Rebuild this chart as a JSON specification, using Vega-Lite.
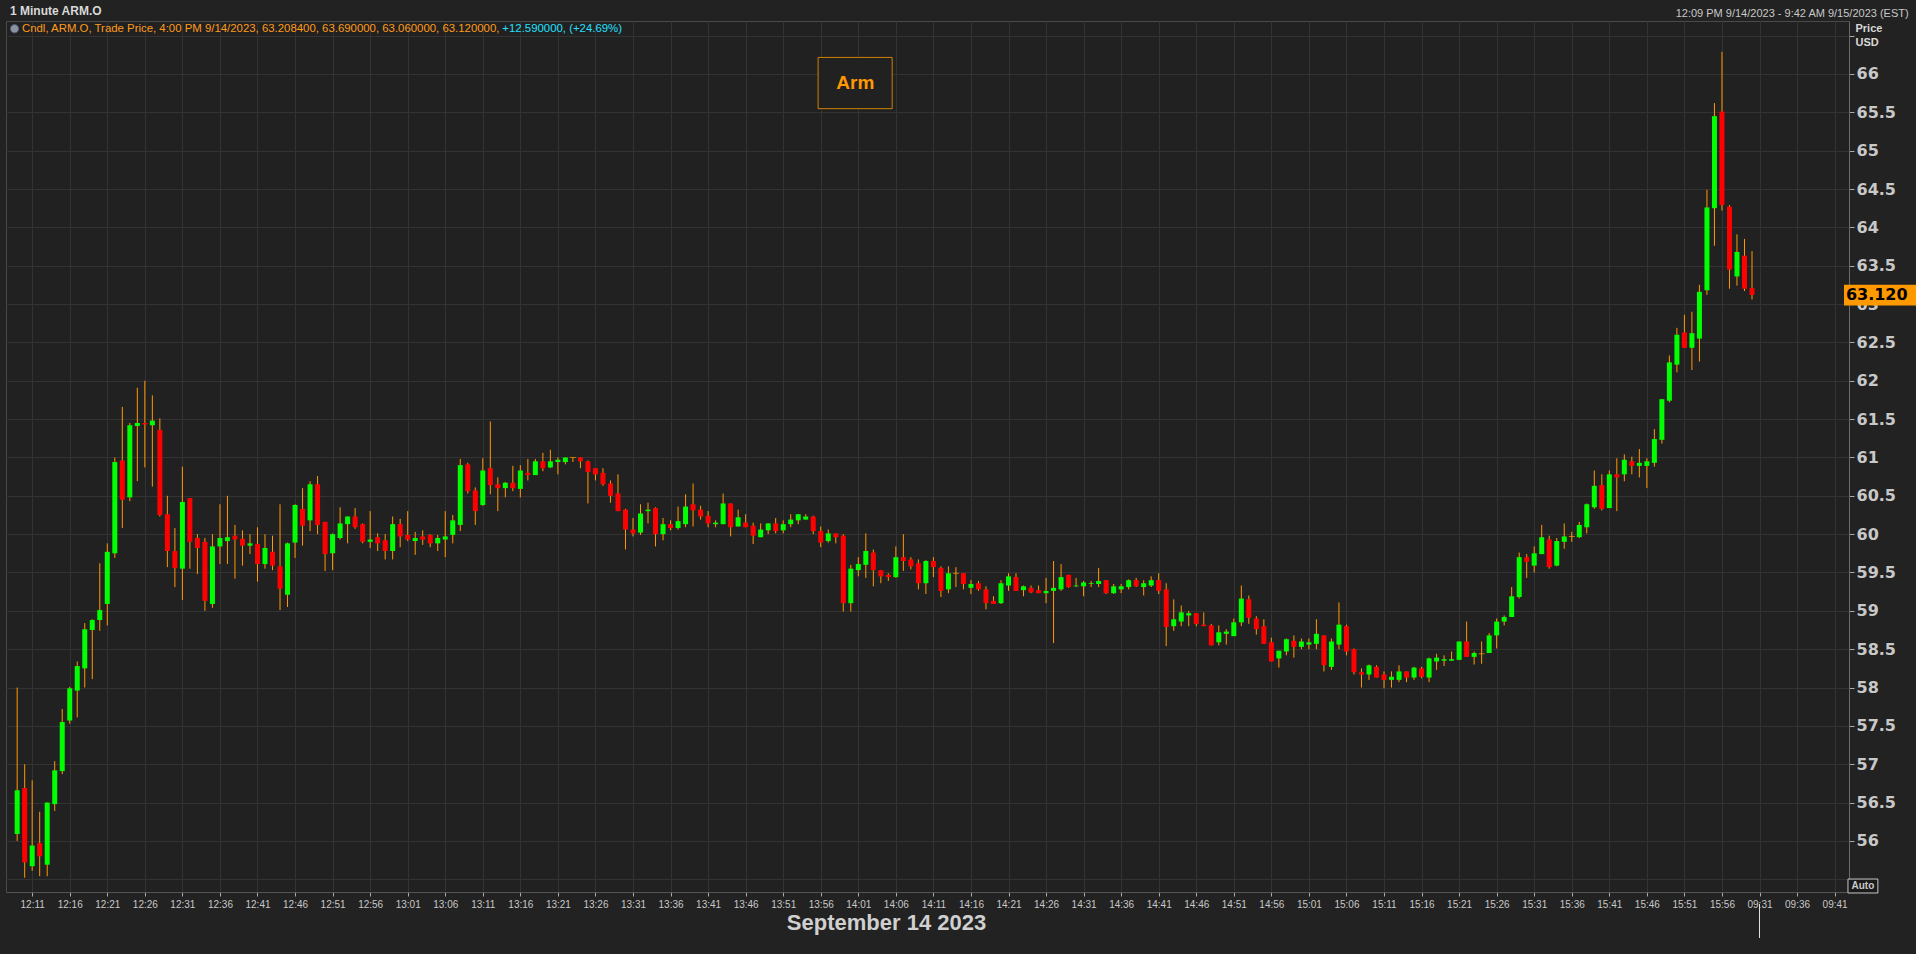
{
  "$schema": "https://vega.github.io/schema/vega-lite/v6.json",
  "width": 1843,
  "height": 871,
  "autosize": {"type": "none"},
  "padding": {"left": 6, "top": 21, "right": 67, "bottom": 62},
  "background": "#222222",
  "config": {
    "view": {"fill": "#212121", "stroke": "#4a4a4a", "strokeWidth": 1},
    "font": "Liberation Sans"
  },
  "data": {"values": [
{"bar":0,"o":56.09,"h":58.0,"l":56.0,"c":56.66},
{"bar":1,"o":56.69,"h":57.0,"l":55.52,"c":55.72},
{"bar":2,"o":55.67,"h":56.79,"l":55.61,"c":55.94},
{"bar":3,"o":55.97,"h":56.38,"l":55.54,"c":55.80},
{"bar":4,"o":55.69,"h":56.50,"l":55.54,"c":56.50},
{"bar":5,"o":56.48,"h":57.04,"l":56.39,"c":56.92},
{"bar":6,"o":56.91,"h":57.72,"l":56.87,"c":57.55},
{"bar":7,"o":57.57,"h":58.01,"l":57.53,"c":57.99},
{"bar":8,"o":57.96,"h":58.34,"l":57.61,"c":58.28},
{"bar":9,"o":58.25,"h":58.84,"l":58.00,"c":58.76},
{"bar":10,"o":58.75,"h":58.89,"l":58.11,"c":58.88},
{"bar":11,"o":58.88,"h":59.62,"l":58.74,"c":59.01},
{"bar":12,"o":59.09,"h":59.88,"l":58.81,"c":59.77},
{"bar":13,"o":59.75,"h":61.0,"l":59.69,"c":60.94},
{"bar":14,"o":60.96,"h":61.66,"l":60.08,"c":60.45},
{"bar":15,"o":60.48,"h":61.45,"l":60.43,"c":61.42},
{"bar":16,"o":61.41,"h":61.91,"l":60.69,"c":61.45},
{"bar":17,"o":61.45,"h":62.0,"l":60.87,"c":61.43},
{"bar":18,"o":61.42,"h":61.81,"l":60.62,"c":61.48},
{"bar":19,"o":61.36,"h":61.51,"l":60.23,"c":60.25},
{"bar":20,"o":60.26,"h":60.50,"l":59.57,"c":59.78},
{"bar":21,"o":59.78,"h":60.08,"l":59.31,"c":59.56},
{"bar":22,"o":59.55,"h":60.88,"l":59.14,"c":60.42},
{"bar":23,"o":60.47,"h":60.47,"l":59.55,"c":59.90},
{"bar":24,"o":59.95,"h":60.00,"l":59.48,"c":59.82},
{"bar":25,"o":59.90,"h":59.95,"l":59.00,"c":59.13},
{"bar":26,"o":59.09,"h":60.00,"l":59.04,"c":59.84},
{"bar":27,"o":59.84,"h":60.39,"l":59.61,"c":59.95},
{"bar":28,"o":59.91,"h":60.50,"l":59.61,"c":59.96},
{"bar":29,"o":59.98,"h":60.12,"l":59.42,"c":59.93},
{"bar":30,"o":59.94,"h":60.05,"l":59.59,"c":59.85},
{"bar":31,"o":59.85,"h":60.00,"l":59.74,"c":59.88},
{"bar":32,"o":59.87,"h":60.09,"l":59.38,"c":59.61},
{"bar":33,"o":59.61,"h":60.00,"l":59.55,"c":59.82},
{"bar":34,"o":59.77,"h":59.98,"l":59.53,"c":59.59},
{"bar":35,"o":59.58,"h":60.39,"l":59.01,"c":59.29},
{"bar":36,"o":59.21,"h":59.89,"l":59.05,"c":59.88},
{"bar":37,"o":59.89,"h":60.39,"l":59.69,"c":60.38},
{"bar":38,"o":60.33,"h":60.60,"l":59.85,"c":60.11},
{"bar":39,"o":60.18,"h":60.69,"l":60.04,"c":60.65},
{"bar":40,"o":60.65,"h":60.76,"l":60.00,"c":60.12},
{"bar":41,"o":60.16,"h":60.16,"l":59.52,"c":59.74},
{"bar":42,"o":59.75,"h":60.01,"l":59.53,"c":60.00},
{"bar":43,"o":59.95,"h":60.35,"l":59.93,"c":60.14},
{"bar":44,"o":60.13,"h":60.23,"l":59.88,"c":60.23},
{"bar":45,"o":60.23,"h":60.34,"l":60.07,"c":60.09},
{"bar":46,"o":60.13,"h":60.14,"l":59.88,"c":59.90},
{"bar":47,"o":59.90,"h":60.30,"l":59.82,"c":59.93},
{"bar":48,"o":59.96,"h":60.01,"l":59.78,"c":59.88},
{"bar":49,"o":59.92,"h":60.00,"l":59.67,"c":59.78},
{"bar":50,"o":59.78,"h":60.23,"l":59.67,"c":60.13},
{"bar":51,"o":60.13,"h":60.20,"l":59.83,"c":59.97},
{"bar":52,"o":59.99,"h":60.30,"l":59.91,"c":59.93},
{"bar":53,"o":59.91,"h":60.03,"l":59.73,"c":59.95},
{"bar":54,"o":59.97,"h":60.05,"l":59.86,"c":59.93},
{"bar":55,"o":59.99,"h":60.00,"l":59.83,"c":59.88},
{"bar":56,"o":59.88,"h":59.99,"l":59.78,"c":59.95},
{"bar":57,"o":59.93,"h":60.30,"l":59.70,"c":59.97},
{"bar":58,"o":59.99,"h":60.25,"l":59.88,"c":60.18},
{"bar":59,"o":60.12,"h":60.98,"l":60.04,"c":60.90},
{"bar":60,"o":60.91,"h":60.93,"l":60.53,"c":60.56},
{"bar":61,"o":60.57,"h":60.61,"l":60.12,"c":60.30},
{"bar":62,"o":60.38,"h":60.99,"l":60.37,"c":60.83},
{"bar":63,"o":60.86,"h":61.47,"l":60.52,"c":60.64},
{"bar":64,"o":60.65,"h":60.74,"l":60.30,"c":60.60},
{"bar":65,"o":60.60,"h":60.68,"l":60.48,"c":60.67},
{"bar":66,"o":60.67,"h":60.89,"l":60.56,"c":60.60},
{"bar":67,"o":60.59,"h":60.90,"l":60.48,"c":60.83},
{"bar":68,"o":60.80,"h":60.98,"l":60.70,"c":60.77},
{"bar":69,"o":60.77,"h":60.98,"l":60.77,"c":60.95},
{"bar":70,"o":60.95,"h":61.06,"l":60.82,"c":60.86},
{"bar":71,"o":60.87,"h":61.10,"l":60.86,"c":60.95},
{"bar":72,"o":60.94,"h":61.00,"l":60.78,"c":60.97},
{"bar":73,"o":60.94,"h":61.00,"l":60.91,"c":61.00},
{"bar":74,"o":61.00,"h":61.00,"l":60.94,"c":61.00},
{"bar":75,"o":61.00,"h":61.00,"l":60.86,"c":60.95},
{"bar":76,"o":60.95,"h":60.96,"l":60.40,"c":60.81},
{"bar":77,"o":60.86,"h":60.86,"l":60.70,"c":60.78},
{"bar":78,"o":60.80,"h":60.86,"l":60.63,"c":60.65},
{"bar":79,"o":60.66,"h":60.70,"l":60.41,"c":60.50},
{"bar":80,"o":60.53,"h":60.78,"l":60.30,"c":60.30},
{"bar":81,"o":60.32,"h":60.33,"l":59.80,"c":60.06},
{"bar":82,"o":60.06,"h":60.21,"l":59.97,"c":60.01},
{"bar":83,"o":60.02,"h":60.39,"l":59.99,"c":60.27},
{"bar":84,"o":60.30,"h":60.41,"l":60.14,"c":60.32},
{"bar":85,"o":60.34,"h":60.35,"l":59.84,"c":60.00},
{"bar":86,"o":60.00,"h":60.21,"l":59.92,"c":60.13},
{"bar":87,"o":60.13,"h":60.18,"l":60.05,"c":60.08},
{"bar":88,"o":60.08,"h":60.36,"l":60.06,"c":60.17},
{"bar":89,"o":60.13,"h":60.52,"l":60.09,"c":60.36},
{"bar":90,"o":60.39,"h":60.66,"l":60.10,"c":60.31},
{"bar":91,"o":60.32,"h":60.37,"l":60.19,"c":60.23},
{"bar":92,"o":60.24,"h":60.30,"l":60.09,"c":60.14},
{"bar":93,"o":60.13,"h":60.18,"l":60.09,"c":60.15},
{"bar":94,"o":60.13,"h":60.53,"l":60.13,"c":60.40},
{"bar":95,"o":60.40,"h":60.40,"l":59.97,"c":60.09},
{"bar":96,"o":60.10,"h":60.32,"l":60.10,"c":60.22},
{"bar":97,"o":60.15,"h":60.26,"l":60.09,"c":60.09},
{"bar":98,"o":60.11,"h":60.15,"l":59.87,"c":59.98},
{"bar":99,"o":59.96,"h":60.14,"l":59.96,"c":60.06},
{"bar":100,"o":60.05,"h":60.14,"l":60.00,"c":60.14},
{"bar":101,"o":60.14,"h":60.21,"l":60.01,"c":60.04},
{"bar":102,"o":60.05,"h":60.18,"l":60.01,"c":60.13},
{"bar":103,"o":60.13,"h":60.26,"l":60.09,"c":60.19},
{"bar":104,"o":60.18,"h":60.26,"l":60.13,"c":60.26},
{"bar":105,"o":60.19,"h":60.26,"l":60.19,"c":60.23},
{"bar":106,"o":60.23,"h":60.24,"l":60.00,"c":60.04},
{"bar":107,"o":60.04,"h":60.10,"l":59.83,"c":59.89},
{"bar":108,"o":59.91,"h":60.06,"l":59.89,"c":60.01},
{"bar":109,"o":60.01,"h":60.01,"l":59.88,"c":59.96},
{"bar":110,"o":59.98,"h":60.00,"l":58.99,"c":59.10},
{"bar":111,"o":59.10,"h":59.60,"l":58.99,"c":59.55},
{"bar":112,"o":59.53,"h":59.70,"l":59.45,"c":59.61},
{"bar":113,"o":59.60,"h":60.01,"l":59.43,"c":59.78},
{"bar":114,"o":59.76,"h":59.80,"l":59.32,"c":59.53},
{"bar":115,"o":59.53,"h":59.53,"l":59.36,"c":59.45},
{"bar":116,"o":59.47,"h":59.49,"l":59.39,"c":59.44},
{"bar":117,"o":59.44,"h":59.84,"l":59.43,"c":59.70},
{"bar":118,"o":59.70,"h":60.00,"l":59.52,"c":59.65},
{"bar":119,"o":59.67,"h":59.70,"l":59.54,"c":59.58},
{"bar":120,"o":59.62,"h":59.67,"l":59.28,"c":59.36},
{"bar":121,"o":59.36,"h":59.66,"l":59.22,"c":59.65},
{"bar":122,"o":59.65,"h":59.70,"l":59.44,"c":59.57},
{"bar":123,"o":59.56,"h":59.58,"l":59.18,"c":59.26},
{"bar":124,"o":59.28,"h":59.58,"l":59.23,"c":59.49},
{"bar":125,"o":59.49,"h":59.57,"l":59.31,"c":59.49},
{"bar":126,"o":59.49,"h":59.49,"l":59.28,"c":59.35},
{"bar":127,"o":59.30,"h":59.40,"l":59.22,"c":59.35},
{"bar":128,"o":59.36,"h":59.39,"l":59.26,"c":59.28},
{"bar":129,"o":59.28,"h":59.32,"l":59.02,"c":59.10},
{"bar":130,"o":59.13,"h":59.19,"l":59.09,"c":59.09},
{"bar":131,"o":59.10,"h":59.40,"l":59.09,"c":59.36},
{"bar":132,"o":59.33,"h":59.49,"l":59.26,"c":59.45},
{"bar":133,"o":59.44,"h":59.49,"l":59.26,"c":59.26},
{"bar":134,"o":59.27,"h":59.33,"l":59.19,"c":59.32},
{"bar":135,"o":59.30,"h":59.33,"l":59.23,"c":59.24},
{"bar":136,"o":59.27,"h":59.33,"l":59.23,"c":59.23},
{"bar":137,"o":59.23,"h":59.43,"l":59.10,"c":59.26},
{"bar":138,"o":59.26,"h":59.65,"l":58.58,"c":59.30},
{"bar":139,"o":59.28,"h":59.61,"l":59.26,"c":59.44},
{"bar":140,"o":59.47,"h":59.47,"l":59.30,"c":59.31},
{"bar":141,"o":59.32,"h":59.43,"l":59.31,"c":59.33},
{"bar":142,"o":59.32,"h":59.39,"l":59.19,"c":59.37},
{"bar":143,"o":59.35,"h":59.39,"l":59.31,"c":59.36},
{"bar":144,"o":59.35,"h":59.56,"l":59.31,"c":59.39},
{"bar":145,"o":59.40,"h":59.40,"l":59.22,"c":59.23},
{"bar":146,"o":59.23,"h":59.35,"l":59.22,"c":59.32},
{"bar":147,"o":59.28,"h":59.35,"l":59.23,"c":59.32},
{"bar":148,"o":59.31,"h":59.41,"l":59.28,"c":59.40},
{"bar":149,"o":59.40,"h":59.43,"l":59.31,"c":59.32},
{"bar":150,"o":59.31,"h":59.40,"l":59.20,"c":59.36},
{"bar":151,"o":59.33,"h":59.45,"l":59.31,"c":59.40},
{"bar":152,"o":59.40,"h":59.49,"l":59.22,"c":59.26},
{"bar":153,"o":59.28,"h":59.36,"l":58.54,"c":58.79},
{"bar":154,"o":58.80,"h":59.15,"l":58.74,"c":58.89},
{"bar":155,"o":58.86,"h":59.07,"l":58.80,"c":58.98},
{"bar":156,"o":58.94,"h":59.00,"l":58.80,"c":58.97},
{"bar":157,"o":58.97,"h":58.97,"l":58.80,"c":58.83},
{"bar":158,"o":58.82,"h":58.98,"l":58.80,"c":58.80},
{"bar":159,"o":58.81,"h":58.83,"l":58.55,"c":58.55},
{"bar":160,"o":58.59,"h":58.81,"l":58.55,"c":58.72},
{"bar":161,"o":58.70,"h":58.76,"l":58.56,"c":58.73},
{"bar":162,"o":58.67,"h":58.90,"l":58.67,"c":58.85},
{"bar":163,"o":58.85,"h":59.33,"l":58.80,"c":59.16},
{"bar":164,"o":59.15,"h":59.20,"l":58.83,"c":58.91},
{"bar":165,"o":58.90,"h":58.93,"l":58.69,"c":58.76},
{"bar":166,"o":58.80,"h":58.89,"l":58.57,"c":58.57},
{"bar":167,"o":58.59,"h":58.65,"l":58.34,"c":58.34},
{"bar":168,"o":58.38,"h":58.48,"l":58.26,"c":58.48},
{"bar":169,"o":58.47,"h":58.64,"l":58.42,"c":58.63},
{"bar":170,"o":58.61,"h":58.68,"l":58.39,"c":58.53},
{"bar":171,"o":58.53,"h":58.64,"l":58.50,"c":58.60},
{"bar":172,"o":58.56,"h":58.64,"l":58.50,"c":58.59},
{"bar":173,"o":58.57,"h":58.89,"l":58.50,"c":58.70},
{"bar":174,"o":58.68,"h":58.68,"l":58.21,"c":58.29},
{"bar":175,"o":58.27,"h":58.64,"l":58.23,"c":58.60},
{"bar":176,"o":58.56,"h":59.11,"l":58.50,"c":58.82},
{"bar":177,"o":58.80,"h":58.82,"l":58.42,"c":58.47},
{"bar":178,"o":58.50,"h":58.51,"l":58.17,"c":58.20},
{"bar":179,"o":58.20,"h":58.25,"l":58.00,"c":58.17},
{"bar":180,"o":58.17,"h":58.30,"l":58.10,"c":58.29},
{"bar":181,"o":58.27,"h":58.29,"l":58.13,"c":58.13},
{"bar":182,"o":58.17,"h":58.21,"l":57.99,"c":58.10},
{"bar":183,"o":58.10,"h":58.21,"l":58.00,"c":58.14},
{"bar":184,"o":58.10,"h":58.29,"l":58.07,"c":58.21},
{"bar":185,"o":58.21,"h":58.21,"l":58.07,"c":58.13},
{"bar":186,"o":58.13,"h":58.27,"l":58.10,"c":58.26},
{"bar":187,"o":58.25,"h":58.27,"l":58.12,"c":58.14},
{"bar":188,"o":58.13,"h":58.39,"l":58.07,"c":58.38},
{"bar":189,"o":58.34,"h":58.44,"l":58.23,"c":58.39},
{"bar":190,"o":58.35,"h":58.42,"l":58.28,"c":58.37},
{"bar":191,"o":58.35,"h":58.47,"l":58.35,"c":58.37},
{"bar":192,"o":58.36,"h":58.60,"l":58.36,"c":58.60},
{"bar":193,"o":58.60,"h":58.86,"l":58.40,"c":58.40},
{"bar":194,"o":58.40,"h":58.47,"l":58.30,"c":58.45},
{"bar":195,"o":58.44,"h":58.60,"l":58.31,"c":58.44},
{"bar":196,"o":58.45,"h":58.71,"l":58.45,"c":58.68},
{"bar":197,"o":58.68,"h":58.90,"l":58.51,"c":58.86},
{"bar":198,"o":58.86,"h":58.94,"l":58.81,"c":58.92},
{"bar":199,"o":58.92,"h":59.31,"l":58.92,"c":59.19},
{"bar":200,"o":59.18,"h":59.76,"l":59.16,"c":59.70},
{"bar":201,"o":59.70,"h":59.74,"l":59.43,"c":59.64},
{"bar":202,"o":59.59,"h":59.84,"l":59.50,"c":59.75},
{"bar":203,"o":59.74,"h":60.12,"l":59.74,"c":59.96},
{"bar":204,"o":59.93,"h":59.98,"l":59.55,"c":59.57},
{"bar":205,"o":59.59,"h":59.95,"l":59.58,"c":59.91},
{"bar":206,"o":59.90,"h":60.14,"l":59.81,"c":59.97},
{"bar":207,"o":59.97,"h":60.03,"l":59.90,"c":59.97},
{"bar":208,"o":59.96,"h":60.16,"l":59.95,"c":60.12},
{"bar":209,"o":60.09,"h":60.40,"l":60.01,"c":60.39},
{"bar":210,"o":60.35,"h":60.83,"l":60.33,"c":60.63},
{"bar":211,"o":60.64,"h":60.78,"l":60.31,"c":60.33},
{"bar":212,"o":60.34,"h":60.83,"l":60.34,"c":60.78},
{"bar":213,"o":60.78,"h":60.99,"l":60.30,"c":60.74},
{"bar":214,"o":60.78,"h":61.04,"l":60.69,"c":60.97},
{"bar":215,"o":60.95,"h":61.01,"l":60.78,"c":60.89},
{"bar":216,"o":60.89,"h":61.11,"l":60.74,"c":60.93},
{"bar":217,"o":60.89,"h":60.99,"l":60.60,"c":60.95},
{"bar":218,"o":60.93,"h":61.37,"l":60.88,"c":61.24},
{"bar":219,"o":61.23,"h":61.76,"l":61.18,"c":61.76},
{"bar":220,"o":61.74,"h":62.33,"l":61.72,"c":62.24},
{"bar":221,"o":62.21,"h":62.69,"l":62.11,"c":62.60},
{"bar":222,"o":62.63,"h":62.86,"l":62.43,"c":62.43},
{"bar":223,"o":62.43,"h":62.90,"l":62.14,"c":62.62},
{"bar":224,"o":62.55,"h":63.25,"l":62.25,"c":63.16},
{"bar":225,"o":63.18,"h":64.49,"l":63.12,"c":64.26},
{"bar":226,"o":64.25,"h":65.62,"l":63.76,"c":65.45},
{"bar":227,"o":65.51,"h":66.29,"l":64.22,"c":64.29},
{"bar":228,"o":64.27,"h":64.29,"l":63.20,"c":63.45},
{"bar":229,"o":63.36,"h":63.91,"l":63.24,"c":63.68},
{"bar":230,"o":63.63,"h":63.85,"l":63.17,"c":63.20},
{"bar":231,"o":63.2084,"h":63.69,"l":63.06,"c":63.12}
  ]},
  "layer": [
    {
      "mark": {"type": "rule", "color": "#ff9900", "strokeWidth": 1},
      "encoding": {
        "x": {"field": "bar", "type": "quantitative",
          "scale": {"domain": [-0.821, 243.25], "nice": false, "zero": false},
          "axis": {
            "values": [2,7,12,17,22,27,32,37,42,47,52,57,62,67,72,77,82,87,92,97,102,107,112,117,122,127,132,137,142,147,152,157,162,167,172,177,182,187,192,197,202,207,212,217,222,227,232,237,242],
            "tickCount": 300,
            "labelExpr": "datum.value < 232 ? (floor((729 + datum.value) / 60) + ':' + (((729 + datum.value) % 60) < 10 ? '0' : '') + ((729 + datum.value) % 60)) : ('09:' + (datum.value - 201))",
            "grid": true, "gridColor": "#333333", "gridWidth": 1,
            "domain": true, "domainColor": "#555555",
            "ticks": true, "tickColor": "#aaaaaa", "tickSize": 4,
            "labelColor": "#c8c8c8", "labelFont": "Liberation Sans", "labelFontSize": 10, "labelPadding": 3,
            "labelFlush": false, "labelOverlap": false,
            "title": "September 14 2023", "titleFont": "Liberation Sans", "titleFontSize": 22, "titleFontWeight": "bold",
            "titleColor": "#d0d0d0", "titleX": 880, "titleY": 30, "titleAlign": "center", "titleBaseline": "middle"
          }},
        "y": {"field": "l", "type": "quantitative",
          "scale": {"domain": [55.334, 66.691], "nice": false, "zero": false},
          "axis": {
            "orient": "right",
            "values": [55.5,56,56.5,57,57.5,58,58.5,59,59.5,60,60.5,61,61.5,62,62.5,63,63.5,64,64.5,65,65.5,66,66.5],
            "tickCount": 300,
            "labelExpr": "(datum.value < 55.9 || datum.value > 66.1) ? '' : '' + datum.value",
            "grid": true, "gridColor": "#333333", "gridWidth": 1,
            "domain": true, "domainColor": "#6a6a6a",
            "ticks": true, "tickColor": "#aaaaaa", "tickSize": 5,
            "labelColor": "#c8c8c8", "labelFont": "DejaVu Sans", "labelFontWeight": "bold", "labelFontSize": 16, "labelPadding": 2,
            "labelFlush": false, "labelOverlap": false,
            "title": ["Price", "USD"], "titleAngle": 0, "titleAlign": "left", "titleBaseline": "middle",
            "titleX": 6, "titleY": 7, "titleFont": "Liberation Sans", "titleFontSize": 11, "titleFontWeight": "bold",
            "titleColor": "#d8d8d8", "titleLineHeight": 14
          }},
        "y2": {"field": "h"}
      }
    },
    {
      "mark": {"type": "bar", "width": 5},
      "encoding": {
        "x": {"field": "bar", "type": "quantitative"},
        "y": {"field": "o", "type": "quantitative"},
        "y2": {"field": "c"},
        "color": {"condition": {"test": "datum.c >= datum.o", "value": "#00ff00"}, "value": "#ff0000"}
      }
    },
    {
      "transform": [{"filter": "datum.o == datum.c"}],
      "mark": {"type": "tick", "orient": "horizontal", "size": 6, "thickness": 1, "color": "#ff9900"},
      "encoding": {
        "x": {"field": "bar", "type": "quantitative"},
        "y": {"field": "o", "type": "quantitative"}
      }
    },
    {
      "data": {"values": [{}]},
      "mark": {"type": "text", "align": "left", "baseline": "middle", "color": "#d8d8d8", "fontSize": 12, "fontWeight": "bold", "font": "Liberation Sans", "text": "1 Minute ARM.O"},
      "encoding": {
        "x": {"datum": -0.95, "type": "quantitative"},
        "y": {"datum": 66.82, "type": "quantitative"}
      }
    },
    {
      "data": {"values": [{}]},
      "mark": {"type": "text", "align": "right", "baseline": "middle", "color": "#c8c8c8", "fontSize": 11, "font": "Liberation Sans", "text": "12:09 PM 9/14/2023 - 9:42 AM 9/15/2023 (EST)"},
      "encoding": {
        "x": {"datum": 251.86, "type": "quantitative"},
        "y": {"datum": 66.78, "type": "quantitative"}
      }
    },
    {
      "data": {"values": [{}]},
      "mark": {"type": "point", "shape": "circle", "filled": true, "size": 70, "color": "#b8c4d8", "stroke": "#5a7090", "strokeWidth": 1},
      "encoding": {
        "x": {"datum": -0.35, "type": "quantitative"},
        "y": {"datum": 66.59, "type": "quantitative"}
      }
    },
    {
      "data": {"values": [{}]},
      "mark": {"type": "text", "align": "left", "baseline": "middle", "color": "#ff9a1a", "fontSize": 11.4, "font": "Liberation Sans", "text": "Cndl, ARM.O, Trade Price,  4:00 PM 9/14/2023, 63.208400, 63.690000, 63.060000, 63.120000,"},
      "encoding": {
        "x": {"datum": 0.64, "type": "quantitative"},
        "y": {"datum": 66.59, "type": "quantitative"}
      }
    },
    {
      "data": {"values": [{}]},
      "mark": {"type": "text", "align": "left", "baseline": "middle", "color": "#22e0ff", "fontSize": 11.4, "font": "Liberation Sans", "text": "+12.590000, (+24.69%)"},
      "encoding": {
        "x": {"datum": 64.6, "type": "quantitative"},
        "y": {"datum": 66.59, "type": "quantitative"}
      }
    },
    {
      "data": {"values": [{}]},
      "mark": {"type": "rect", "fill": "#212121", "stroke": "#d08000", "strokeWidth": 1},
      "encoding": {
        "x": {"datum": 106.65, "type": "quantitative"},
        "x2": {"datum": 116.51},
        "y": {"datum": 66.216, "type": "quantitative"},
        "y2": {"datum": 65.548}
      }
    },
    {
      "data": {"values": [{}]},
      "mark": {"type": "text", "align": "center", "baseline": "middle", "color": "#ff9900", "fontSize": 19, "fontWeight": "bold", "font": "Liberation Sans", "text": "Arm"},
      "encoding": {
        "x": {"datum": 111.6, "type": "quantitative"},
        "y": {"datum": 65.883, "type": "quantitative"}
      }
    },
    {
      "data": {"values": [{}]},
      "mark": {"type": "rect", "fill": "#ff9900"},
      "encoding": {
        "x": {"datum": 243.25, "type": "quantitative"},
        "x2": {"datum": 253},
        "y": {"datum": 63.253, "type": "quantitative"},
        "y2": {"datum": 62.981}
      }
    },
    {
      "data": {"values": [{}]},
      "mark": {"type": "text", "align": "left", "baseline": "middle", "color": "#000000", "fontSize": 16, "fontWeight": "bold", "font": "DejaVu Sans", "text": "63.120"},
      "encoding": {
        "x": {"datum": 243.5, "type": "quantitative"},
        "y": {"datum": 63.118, "type": "quantitative"}
      }
    },
    {
      "data": {"values": [{}]},
      "mark": {"type": "rect", "fill": "#1a1a1a", "stroke": "#c8c8c8", "strokeWidth": 1},
      "encoding": {
        "x": {"datum": 243.78, "type": "quantitative"},
        "x2": {"datum": 247.76},
        "y": {"datum": 55.503, "type": "quantitative"},
        "y2": {"datum": 55.321}
      }
    },
    {
      "data": {"values": [{}]},
      "mark": {"type": "text", "align": "center", "baseline": "middle", "color": "#c8c8c8", "fontSize": 10, "fontWeight": "bold", "font": "Liberation Sans", "text": "Auto"},
      "encoding": {
        "x": {"datum": 245.77, "type": "quantitative"},
        "y": {"datum": 55.412, "type": "quantitative"}
      }
    },
    {
      "data": {"values": [{}]},
      "mark": {"type": "rule", "color": "#e0e0e0", "strokeWidth": 1},
      "encoding": {
        "x": {"datum": 232, "type": "quantitative"},
        "y": {"datum": 55.177, "type": "quantitative"},
        "y2": {"datum": 54.734}
      }
    }
  ]
}
